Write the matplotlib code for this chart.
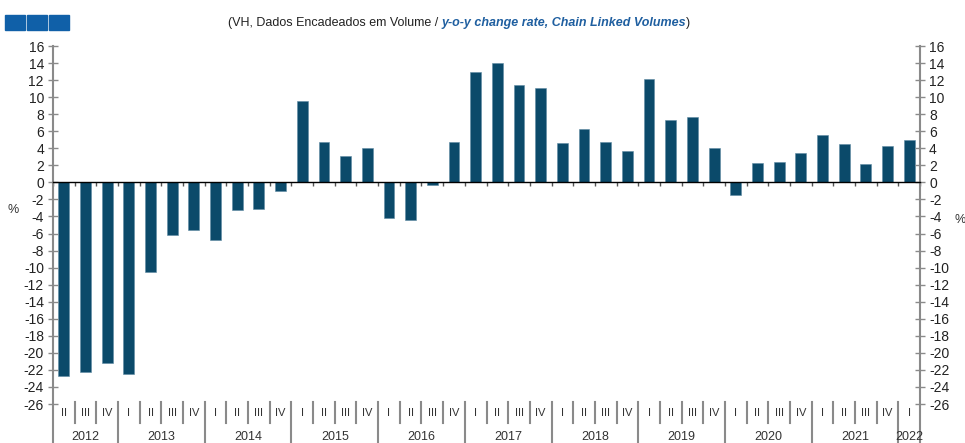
import numpy as np
import matplotlib
matplotlib.use("Agg")
import matplotlib.pyplot as plt
from matplotlib.patches import Rectangle

plt.rcParams['font.family'] = ['Liberation Sans', 'DejaVu Sans']
plt.rcParams['axes.unicode_minus'] = False

# y-o-y change rate (%), 2012 Q2 .. 2022 Q1
quarters = ["II", "III", "IV"] + ["I", "II", "III", "IV"] * 9 + ["I"]
years = ["2012", "2013", "2014", "2015", "2016", "2017",
         "2018", "2019", "2020", "2021", "2022"]
values = [-22.7, -22.3, -21.2, -22.5,
          -10.5, -6.2, -5.6, -6.8,
          -3.2, -3.1, -1.0,
          9.5, 4.7, 3.1, 4.0,
          -4.2, -4.4, -0.3, 4.7,
          13.0, 14.0, 11.4, 11.1,
          4.6, 6.3, 4.7, 3.7,
          12.1, 7.3, 7.7, 4.0,
          -1.5, 2.3, 2.4, 3.4,
          5.5, 4.5, 2.1, 4.3, 5.0]

bar_color = "#0b4a6a"
grey = "#8a8a8a"

fig = plt.figure(figsize=(9.65, 4.43), dpi=100)
ax = fig.add_axes([53 / 965, 1 - 404 / 443, 867 / 965, 358 / 443])

x = np.arange(len(values))
ax.bar(x, values, width=0.5, color=bar_color, edgecolor="#5f8aa3", linewidth=0.4)

ax.set_xlim(-0.5, len(values) - 0.5)
ax.set_ylim(-26, 16)
ax.set_yticks(np.arange(-26, 17, 2))
ax.tick_params(axis="y", direction="inout", length=7, width=1, color=grey,
               labelsize=10, left=True, right=True, labelleft=True,
               labelright=True, pad=3, labelcolor="#222222")

# zero line with small ticks at slot boundaries
ax.spines["bottom"].set_position(("data", 0))
ax.spines["bottom"].set_color("black")
ax.spines["bottom"].set_linewidth(1)
ax.set_xticks(np.arange(-0.5, len(values), 1))
ax.tick_params(axis="x", direction="out", length=3, width=1, color="#555555",
               labelbottom=False)
for s in ["top", "left", "right"]:
    ax.spines[s].set_visible(False)

# vertical axis lines running down into the category area
for xa in [0, 1]:
    ax.plot([xa, xa], [1, -0.115], transform=ax.transAxes, color=grey,
            lw=1.5, clip_on=False)

# category labels: quarters and years
trans = matplotlib.transforms.blended_transform_factory(ax.transData, ax.transAxes)
for i, q in enumerate(quarters):
    ax.text(i, -0.026, q, transform=trans, ha="center", va="center",
            fontsize=8, color="#333333")
    b = i - 0.5
    if i == 0:
        continue
    if q == "I":
        ax.plot([b, b], [0.005, -0.115], transform=trans, color=grey, lw=1.5,
                clip_on=False)
    else:
        ax.plot([b, b], [0.005, -0.053], transform=trans, color=grey, lw=1.5,
                clip_on=False)

start = 0
for y in years:
    n = 3 if y == "2012" else (1 if y == "2022" else 4)
    ax.text(start + (n - 1) / 2, -0.092, y, transform=trans, ha="center",
            va="center", fontsize=9, color="#333333")
    start += n

fig.text(13 / 965, 1 - 210 / 443, "%", fontsize=9, color="#333333",
         ha="center", va="center")
fig.text(960 / 965, 1 - 220 / 443, "%", fontsize=9, color="#333333",
         ha="center", va="center")

# subtitle in three pieces
t1 = fig.text(228 / 965, 1 - 23 / 443, "(VH, Dados Encadeados em Volume / ",
              fontsize=9, color="#222222", va="center")
t2 = ax.annotate("y-o-y change rate, Chain Linked Volumes", xy=(1, 0),
                 xycoords=t1, va="bottom", fontsize=9, color="#1f5fa0",
                 fontweight="bold", fontstyle="italic")
ax.annotate(")", xy=(1, 0), xycoords=t2, va="bottom", fontsize=9,
            color="#222222")

# decorative blue squares
for i in range(3):
    fig.patches.append(Rectangle(((5 + i * 22) / 965, 1 - 30 / 443),
                                 20 / 965, 15 / 443, transform=fig.transFigure,
                                 color="#1060a8", figure=fig))

fig.savefig("out.png", dpi=100)
